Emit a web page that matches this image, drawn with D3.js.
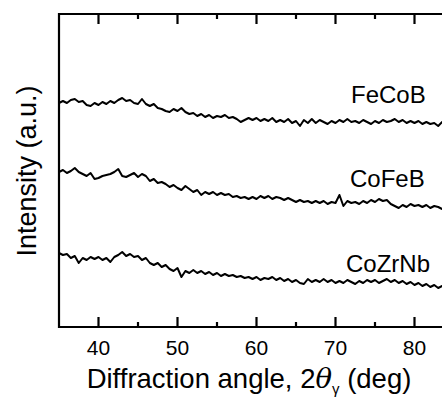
<!DOCTYPE html>
<html><head><meta charset="utf-8">
<script src="https://cdn.jsdelivr.net/npm/d3@7"></script>
<style>
html,body{margin:0;padding:0;background:#fff;}
svg{display:block;}
text{font-family:"Liberation Sans",Arial,Helvetica,sans-serif;fill:#000;}
</style></head>
<body>
<svg id="chart" width="442" height="398"></svg>
<script>
// Sampling grid of diffraction angle (deg): 35 to 85 every 0.5
const angleStart = 35, angleEnd = 85, angleStep = 0.5;
const majorTicks = [40, 50, 60, 70, 80];
const minorTicks = [45, 55, 65, 75, 85];
const seriesNames = ["FeCoB", "CoFeB", "CoZrNb"];

// Intensity (a.u., stacked)
const feCoB = [
 227,229,227,230,231,228,229,225,224,227,
 225,228,226,229,227,230,232,229,230,227,
 226,231,226,224,226,222,221,219,218,221,
 219,222,218,216,217,214,216,213,215,212,
 214,213,215,212,213,211,208,210,212,210,
 212,209,211,209,212,208,210,208,211,207,
 209,204,210,207,211,207,210,208,206,209,
 207,210,208,211,208,209,207,210,208,206,
 209,207,210,208,209,211,208,210,207,209,
 207,209,206,208,206,207,204,208,205,207,204];
const coFeB = [
 158,160,157,159,162,158,156,154,157,151,
 152,154,155,156,158,161,154,153,155,157,
 153,156,154,149,151,147,148,146,143,145,
 142,140,144,141,138,140,135,138,136,138,
 135,137,135,136,133,134,132,133,131,133,
 131,134,132,134,131,133,132,130,132,130,
 128,130,128,129,127,129,127,129,126,128,
 127,135,124,129,127,128,126,129,127,130,
 128,131,129,130,126,124,122,125,123,126,
 124,125,123,125,122,124,123,121,124,122,123];
const coZrNb = [
 77,75,76,72,74,67,72,70,73,71,
 73,70,72,68,73,75,78,74,76,73,
 74,70,72,67,65,67,63,65,61,59,
 62,53,59,57,60,57,59,56,58,55,
 57,54,56,54,55,53,54,52,53,51,
 53,50,52,51,53,50,52,49,51,48,
 50,47,46,51,48,50,48,51,48,50,
 47,49,47,50,48,46,49,47,50,48,
 50,47,49,51,48,50,47,49,46,48,
 45,47,44,46,43,45,42,44,42,43,41];
const seriesValues = [feCoB, coFeB, coZrNb];

const svg = d3.select("#chart");
const L = 59, R = 454, T = 14, B = 327;

const x = d3.scaleLinear().domain([angleStart, angleEnd]).range([L, R]);
const y = d3.scaleLinear().domain([3, 316]).range([B, T]);
const angles = d3.range(angleStart, angleEnd + angleStep / 2, angleStep);

// curves
const line = d3.line().x(d => x(d[0])).y(d => y(d[1]));
seriesValues.forEach(vals => {
  svg.append("path")
    .datum(angles.map((a, i) => [a, vals[i]]))
    .attr("d", line)
    .attr("fill", "none")
    .attr("stroke", "#000")
    .attr("stroke-width", 2)
    .attr("stroke-linejoin", "round");
});

// frame + inward ticks (top and bottom) in one path
const p = d3.path();
p.moveTo(L, T); p.lineTo(R, T); p.lineTo(R, B); p.lineTo(L, B); p.closePath();
const tickSpec = majorTicks.map(v => [v, 10]).concat(minorTicks.map(v => [v, 5]));
tickSpec.forEach(([v, len]) => {
  const px = x(v);
  p.moveTo(px, B); p.lineTo(px, B - len);
  p.moveTo(px, T); p.lineTo(px, T + len);
});
svg.append("path").attr("d", p.toString())
  .attr("fill", "none").attr("stroke", "#000").attr("stroke-width", 2.2);

// tick labels
svg.append("g").selectAll("text").data(majorTicks).join("text")
  .attr("x", d => x(d)).attr("y", 355)
  .attr("text-anchor", "middle").attr("font-size", 21)
  .text(d3.format("d"));

// series labels
const labelPos = [[351, 103], [350, 187], [346, 272]];
seriesNames.forEach((n, i) => {
  svg.append("text").attr("x", labelPos[i][0]).attr("y", labelPos[i][1])
    .attr("font-size", 24).text(n);
});

// x label
const xl = svg.append("text").attr("x", 249).attr("y", 388)
  .attr("text-anchor", "middle").attr("font-size", 27.5);
xl.append("tspan").text("Diffraction angle, 2");
xl.append("tspan").attr("font-style", "italic").attr("font-family", '"DejaVu Serif","Liberation Serif",serif').text("θ");
xl.append("tspan").attr("font-size", 15).attr("dy", 6).text("γ");
xl.append("tspan").attr("dy", -6).text(" (deg)");

// y label
svg.append("text").attr("transform", "translate(36,171) rotate(-90)")
  .attr("text-anchor", "middle").attr("font-size", 27).text("Intensity (a.u.)");
</script>
</body></html>
